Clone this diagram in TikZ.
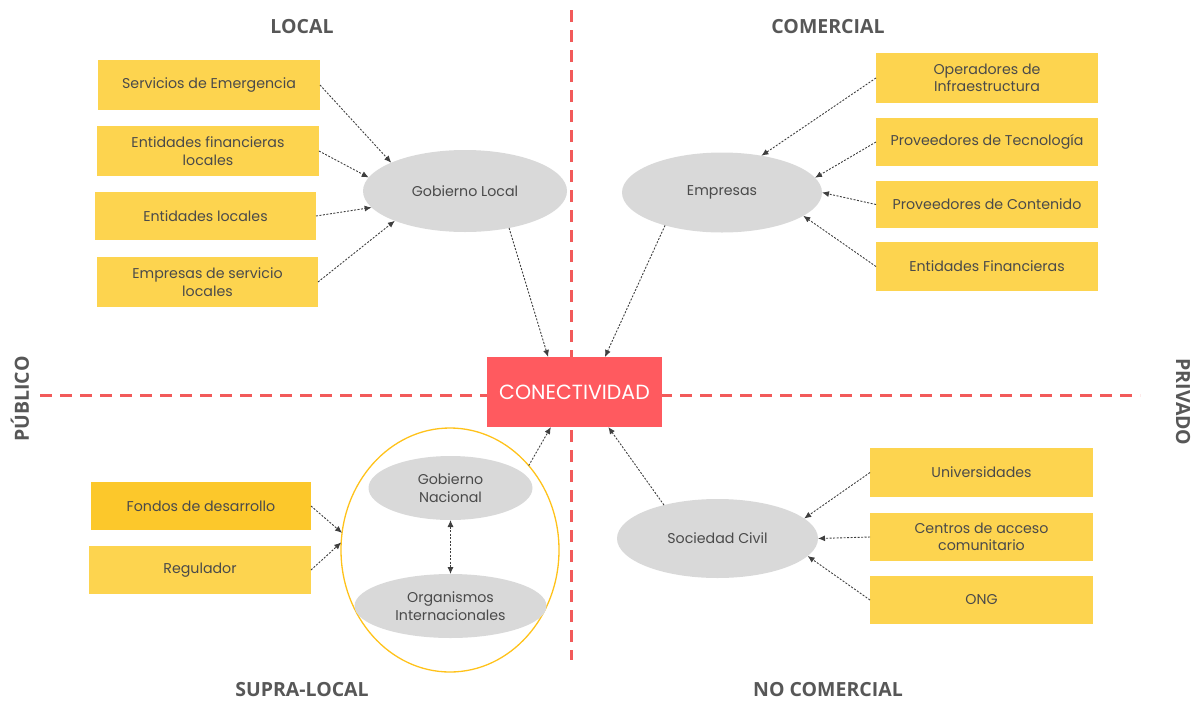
\documentclass[tikz,border=0pt]{standalone}
\usepackage{fontspec}
\setmainfont{Poppins}
\newfontfamily\headfont{Open Sans}
\usetikzlibrary{arrows.meta,shapes.geometric}
\definecolor{boxyellow}{HTML}{FDD44F}
\definecolor{boxgold}{HTML}{FCC82B}
\definecolor{ovalgray}{HTML}{D9D9D9}
\definecolor{conred}{HTML}{FF5A5F}
\definecolor{axisred}{HTML}{F25A5A}
\definecolor{ringyellow}{HTML}{FFC21A}
\definecolor{txtgray}{HTML}{4A4A4A}
\definecolor{headgray}{HTML}{575757}
\definecolor{linkgray}{HTML}{3F3F3F}
\begin{document}
\begin{tikzpicture}[x=1pt,y=-1pt,
  every node/.style={outer sep=0pt, inner sep=2pt},
  actor/.style={rectangle, fill=boxyellow, minimum width=222pt, minimum height=49pt,
    align=center, text=txtgray, font=\fontsize{14.2}{17.5}\selectfont},
  group/.style={ellipse, fill=ovalgray, align=center, text=txtgray,
    font=\fontsize{14.2}{17.5}\selectfont},
  heading/.style={text=headgray, font=\headfont\bfseries\fontsize{19.5}{22}\selectfont},
  axis/.style={draw=axisred, line width=3pt, dash pattern=on 12pt off 8pt},
  link/.style={draw=linkgray, line width=0.9pt, dash pattern=on 2pt off 1.5pt,
    -{Latex[length=7pt,width=6pt]}},
  twolink/.style={link, {Latex[length=7pt,width=6pt]}-{Latex[length=7pt,width=6pt]}}
]
\useasboundingbox (0,0) rectangle (1197,702);

% quadrant axes
\coordinate (axtop) at (571,10);
\coordinate (axbot) at (571,660);
\coordinate (axleft) at (40,395);
\coordinate (axright) at (1140,395);
\draw[axis] (axtop) -- (axbot);
\draw[axis] (axleft) -- (axright);

% quadrant headings
\node[heading] (hlocal) at (302,27) {LOCAL};
\node[heading] (hcom) at (828,27) {COMERCIAL};
\node[heading] (hsupra) at (302,690) {SUPRA-LOCAL};
\node[heading] (hnocom) at (828,690) {NO COMERCIAL};
\node[heading, rotate=90] (hpub) at (20,399) {PÚBLICO};
\node[heading, rotate=-90] (hpriv) at (1183,402) {PRIVADO};

% centre
\node[rectangle, fill=conred, minimum width=175pt, minimum height=70pt, text=white,
  font=\fontsize{20.5}{22}\selectfont] (con) at (574.5,392) {CONECTIVIDAD};

% local government cluster
\node[group, minimum width=204pt, minimum height=82pt] (gl) at (465,191) {Gobierno Local};
\node[actor, minimum height=50pt] (se) at (209,85) {Servicios de Emergencia};
\node[actor, minimum height=50pt] (efl) at (208,151) {Entidades financieras\\locales};
\node[actor, minimum height=48pt, minimum width=221pt] (el) at (205.5,216) {Entidades locales};
\node[actor, minimum height=50pt, minimum width=221pt] (esl) at (207.5,282) {Empresas de servicio\\locales};

% companies cluster
\node[group, minimum width=200pt, minimum height=80pt] (emp) at (722,192.5) {Empresas};
\node[actor, minimum height=50pt] (oi) at (987,78) {Operadores de\\Infraestructura};
\node[actor, minimum height=48pt] (pt) at (987,142) {Proveedores de Tecnología};
\node[actor, minimum height=47pt] (pc) at (987,204.5) {Proveedores de Contenido};
\node[actor, minimum height=49pt] (ef) at (987,266.5) {Entidades Financieras};

% supra-local cluster
\node[ellipse, draw=ringyellow, line width=1.3pt, minimum width=218pt, minimum height=244pt] (ring) at (450,550) {};
\node[group, minimum width=164pt, minimum height=64pt] (gn) at (450.5,488) {Gobierno\\Nacional};
\node[group, minimum width=192pt, minimum height=64pt] (oin) at (450.5,606) {Organismos\\Internacionales};
\node[actor, fill=boxgold, minimum width=220pt, minimum height=48pt] (fd) at (201,506) {Fondos de desarrollo};
\node[actor, minimum height=48pt] (reg) at (200,570) {Regulador};

% civil society cluster
\node[group, minimum width=201pt, minimum height=79pt] (sc) at (717.5,538.5) {Sociedad Civil};
\node[actor, minimum width=223pt, minimum height=49pt] (uni) at (981.5,472.5) {Universidades};
\node[actor, minimum width=223pt, minimum height=48pt] (cac) at (981.5,537) {Centros de acceso\\comunitario};
\node[actor, minimum width=223pt, minimum height=48pt] (ong) at (981.5,600) {ONG};

% links into Gobierno Local
\draw[link] (se.east) -- (gl.159);
\draw[link] (efl.east) -- (gl.172);
\draw[link] (el.east) -- (gl.190);
\draw[link] (esl.east) -- (gl.203);

% links into Empresas
\draw[link] (oi.west) -- (emp.43);
\draw[link] (pt.west) -- (emp.9);
\draw[link] (pc.west) -- (emp.0);
\draw[link] (ef.west) -- (emp.344);

% links into the supra-local ring
\draw[link] (fd.east) -- (ring.171);
\draw[link] (reg.east) -- (ring.176);
\draw[twolink] (gn.south) -- (oin.north);

% links into Sociedad Civil
\draw[link] (uni.west) -- (sc.13);
\draw[link] (cac.west) -- (sc.0);
\draw[link] (ong.west) -- (sc.349);

% links into CONECTIVIDAD
\draw[link] (gl.320) -- (con.127);
\draw[link] (emp.210) -- (con.49);
\draw[link] (ring.47) -- (con.236);
\draw[link] (sc.148) -- (con.314);
\end{tikzpicture}
\end{document}
